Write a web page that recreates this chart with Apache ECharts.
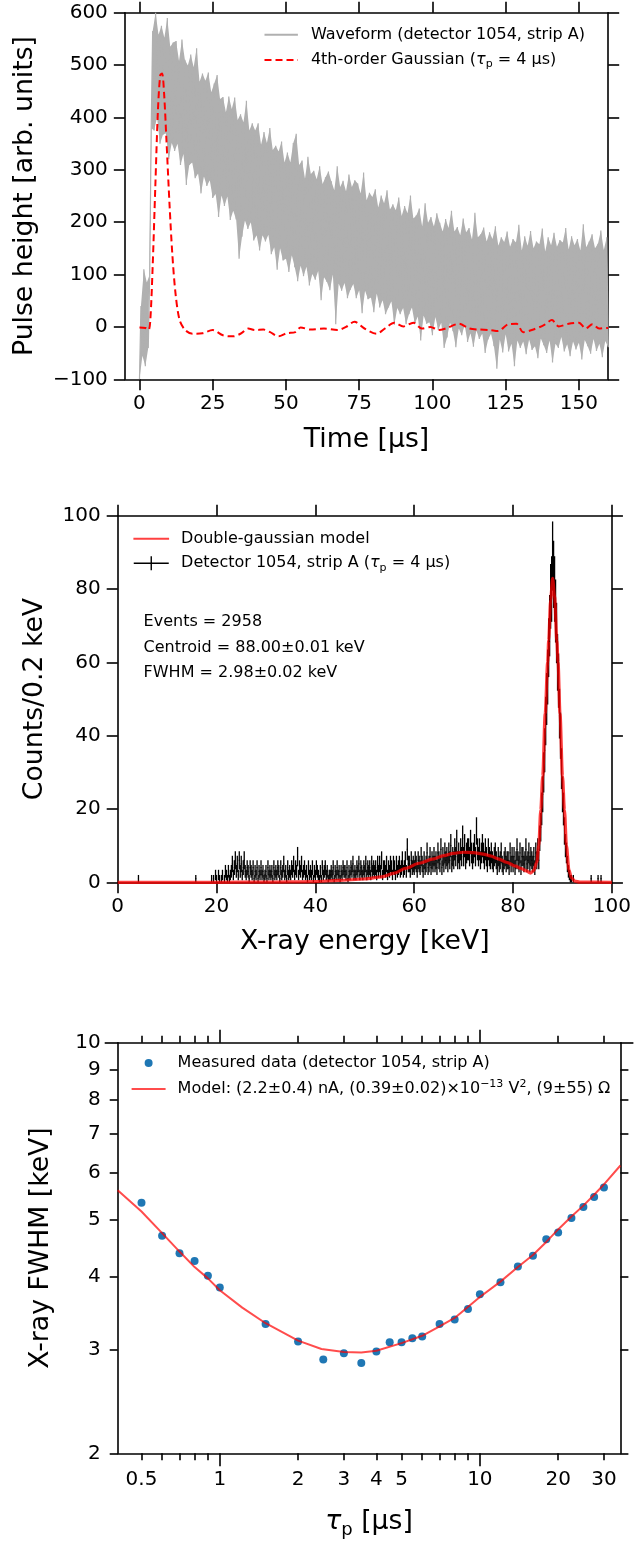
<!DOCTYPE html>
<html>
<head>
<meta charset="utf-8">
<script src="https://cdn.jsdelivr.net/npm/echarts@6/dist/echarts.min.js"></script>
<style>
  html, body { margin: 0; padding: 0; background: #fff; }
  #chart { width: 634px; height: 1543px; }
</style>
</head>
<body>
<div id="chart"></div>
<script>
// ---------- top panel: waveform envelope read once per µs (low at t, high at t+0.5) ----------
var waveHigh = [40,110,85,100,
  565,600,558,575,552,590,535,543,546,508,549,510,499,520,496,532,
  468,484,470,486,448,465,481,435,439,410,440,416,438,395,406,391,432,375,389,375,
  389,348,372,351,380,338,346,335,354,314,333,314,351,369,309,318,283,325,292,298,
  282,307,273,286,297,278,261,307,267,279,259,291,267,280,274,255,295,242,256,248,
  263,228,251,236,261,224,234,223,247,212,231,217,251,207,213,226,192,236,199,210,
  192,217,199,182,206,189,222,182,191,175,207,181,189,167,218,171,177,190,163,181,
  168,192,155,171,162,182,153,168,161,195,146,173,155,183,150,163,158,188,144,171,
  156,180,153,166,161,189,148,173,156,168,146,196,152,163,177,150,159,184,147,171,154];
var waveLow = [-100,-55,-75,-40,
  380,375,400,350,367,370,320,351,336,350,309,330,271,309,314,284,
  293,255,287,269,280,246,254,210,251,231,249,204,222,205,130,172,203,187,200,165,
  175,146,175,163,176,139,152,109,150,127,130,105,137,114,87,117,97,115,79,101,
  90,107,51,95,86,70,100,5,83,69,84,55,71,82,55,70,26,69,53,56,
  28,64,37,51,24,37,49,4,36,24,36,5,24,37,6,20,-26,22,6,9,
  -16,19,-6,8,-40,-20,8,-8,-39,-3,-16,3,-29,-12,-38,-7,-23,-13,-50,-24,
  -13,-37,-80,-24,-49,-14,-47,-32,-75,-26,-40,-28,-52,-24,-44,-37,-60,-22,-35,-50,
  -26,-68,-32,-40,-19,-47,-33,-56,-28,-43,-30,-62,-25,-37,-51,-23,-46,-32,-58,-27,-39];
var gaussTime = [0,2,3.1,3.7,4.5,5.4,6.3,7.1,7.7,8.4,9.2,10.3,11.2,12.3,13.7,15.6,18.1,21.5,25,28.5,
  31.9,34.8,37.1,39.4,42.3,44.6,47.5,50.3,53.2,55,58.4,63,67.6,70.5,73.4,76.8,80.9,83.8,87,90.1,
  93.5,96.4,99.3,102.2,104.5,109.1,112.6,116,119.5,122.4,125.8,128.7,131,133.9,137.9,140.8,143.1,146.5,150,152.3,
  154.6,156.9,159.2,160];
var gaussHeight = [-1,-2,-6,13,115,267,414,481,484,446,357,229,140,64,13,-6,-13,-12,-6,-16,
  -18,-12,-3,-6,-5,-10,-18,-12,-10,-1,-5,-3,-6,0,10,-3,-13,-3,8,1,
  8,-3,0,-6,-3,6,-3,-5,-6,-8,5,6,-10,-6,3,13,1,6,8,-3,
  5,-3,-2,-2];
var timeTicks = [0, 25, 50, 75, 100, 125, 150];

// ---------- middle panel: spectrum, 0.2 keV bins starting at 19 keV ----------
var histStart = 19.0;
var binWidth = 0.2;
var histCounts = [
  1,0,1,0,2, 1,0,2,1,0, 1,2,0,1,3, 2,1,3,1,2, 3,5,2,4,6,
  3,5,2,6,3, 5,2,4,6,3, 2,4,3,1,4, 3,2,4,1,3, 2,4,1,3,2,
  4,2,3,1,2, 3,1,4,2,3, 2,3,1,4,2, 3,2,4,3,1, 4,2,3,5,2,
  3,1,4,2,3, 2,4,3,5,2, 4,3,7,2,4, 3,5,2,3,4, 2,3,1,4,2,
  3,2,4,1,3, 2,4,3,2,1, 3,1,4,2,3, 4,2,3,1,2, 2,3,2,4,1,
  3,2,4,2,3, 1,3,2,4,3, 3,2,4,1,3, 2,4,3,5,2, 3,2,4,3,5,
  2,4,3,2,4, 3,5,2,4,3, 4,2,5,3,4, 3,4,2,5,3, 5,3,6,2,4,
  4,3,5,2,4, 3,5,4,2,5, 4,2,5,3,4, 5,3,4,6,3, 4,6,3,9,5,
  5,3,6,4,5, 4,6,5,3,6, 5,4,7,5,3, 6,4,5,8,4, 5,7,4,6,5,
  7,5,6,4,8, 6,5,9,4,7, 5,8,6,7,5, 8,6,10,5,7, 6,9,7,11,6,
  8,6,9,7,12, 7,10,6,8,9, 9,7,11,8,6, 8,10,7,14,9, 7,9,6,8,10,
  8,6,9,7,5, 9,7,6,8,6, 5,7,8,6,4, 7,5,6,8,5, 4,6,7,5,6,
  6,4,8,5,7, 5,7,4,6,9, 6,5,8,4,7, 7,5,6,9,5, 6,8,5,7,6,
  5,7,4,8,6, 9,6,12,15,20, 24,30,36,44,50, 56,64,70,78,80, 89,84,80,74,68,
  60,55,46,40,31, 24,20,14,10,8, 5,3,2,1,1, 0,1,0,0,0];
var strayEnergy = [4.2, 15.8, 95.8, 97.2, 97.8];
var strayCounts = [1, 1, 1, 1, 1];
var modelEnergy = [0,20,30,40,44.5,50,53.4,56,58.2,61,63.7,66,67.9,69.9,72,74,75.4,77,78.8,80.5,
  81.6,82.7,83.5,84.2,84.8,85.2,85.6,86,86.5,87,87.2,87.6,88,88.4,88.85,89.1,89.5,90,90.4,90.8,
  91.3,91.8,92.5,93.5,100];
var modelCounts = [0,0,0.05,0.2,0.5,0.9,1.5,2.5,3.8,5.2,6.3,7.3,7.9,8.2,8.1,7.7,7.2,6.4,5.4,4.4,
  3.8,3.1,2.5,3.2,5.5,10,19.7,29,46,60,66,77,82.9,78,66,60,46,29,19.7,10,
  3.4,1.2,0.3,0.05,0];
var statsLines = ['Events = 2958', 'Centroid = 88.00±0.01 keV', 'FWHM = 2.98±0.02 keV'];

// ---------- bottom panel: FWHM vs peaking time ----------
var tau = [0.5,0.6,0.7,0.8,0.9,1,1.5,2,2.5,3,3.5,4,4.5,5,5.5,6,7,8,9,10,12,14,16,18,20,22.5,25,27.5,30];
var fwhm = [5.34,4.69,4.38,4.25,4.01,3.83,3.32,3.10,2.89,2.96,2.85,2.98,3.09,3.09,3.14,3.16,3.32,3.38,3.52,3.73,
  3.91,4.16,4.34,4.63,4.75,5.03,5.25,5.46,5.67];
var fitTau = [0.405,0.5,0.6,0.7,0.8,0.9,1,1.22,1.5,2,2.46,3,3.5,4,5,6,7,8,10,12,14,16,18,20,22.5,25,27.5,30,34.7];
var fitFwhm = [5.61,5.16,4.74,4.41,4.15,3.97,3.79,3.54,3.33,3.11,3.01,2.975,2.97,2.99,3.08,3.17,3.29,3.40,3.69,3.92,
  4.15,4.35,4.58,4.81,5.06,5.28,5.51,5.74,6.18];
var tauLabels = [0.5, 1, 2, 3, 4, 5, 10, 20, 30];
var tauMajor = [1, 10];
var tauMinor = [0.5, 0.6, 0.7, 0.8, 0.9, 2, 3, 4, 5, 6, 7, 8, 9, 20, 30];
var fwhmLabels = [2, 3, 4, 5, 6, 7, 8, 9, 10];
var fwhmMajor = [10];
var fwhmMinor = [2, 3, 4, 5, 6, 7, 8, 9];

var legendNames = {
  wave: 'Waveform (detector 1054, strip A)',
  gauss: '4th-order Gaussian ({i|τ}{s|p} = 4 μs)',
  model: 'Double-gaussian model',
  detector: 'Detector 1054, strip A ({i|τ}{s|p} = 4 μs)',
  measured: 'Measured data (detector 1054, strip A)',
  fit: 'Model: (2.2±0.4) nA, (0.39±0.02)×10{sup|−13} V{sup|2}, (9±55) Ω'
};

var waveData = [];
for (var i = 0; i < waveLow.length; i++) {
  waveData.push([i, waveLow[i]]);
  if (i < waveLow.length - 1) waveData.push([i + 0.5, waveHigh[i]]);
}
var histData = histCounts.map(function (n, k) { return [histStart + k * binWidth, n]; })
  .filter(function (d) { return d[1] > 0; });
strayEnergy.forEach(function (e, k) { histData.push([e, strayCounts[k]]); });

var black = '#000';
var grey = '#b0b0b0';
var labelFont = 20;
var nameFont = 26.7;

function axisLine(show) {
  return { show: show, onZero: false, lineStyle: { color: black, width: 1.6 } };
}
function axisTick(values, len) {
  var t = { show: true, length: len, lineStyle: { color: black, width: 1.6 } };
  if (values) t.customValues = values;
  return t;
}
function axisLabel(values, show, margin) {
  var l = { show: show, fontSize: labelFont, color: black, margin: margin,
    formatter: function (v) { return String(v).replace('-', '\u2212'); } };
  if (values) l.customValues = values;
  return l;
}
function makeAxis(o) {
  return {
    gridIndex: o.grid, type: o.type || 'value', position: o.pos,
    min: o.min, max: o.max, interval: o.interval, logBase: 10,
    axisLine: axisLine(o.line !== false),
    axisTick: axisTick(o.ticks, o.tickLen || 11),
    axisLabel: axisLabel(o.labels, !!o.showLabels, o.margin || 14),
    splitLine: { show: false },
    name: o.name, nameLocation: 'middle', nameGap: o.nameGap,
    nameTextStyle: { fontSize: nameFont, color: black, lineHeight: 34,
      rich: { i: { fontSize: nameFont, fontStyle: 'italic', lineHeight: 34 },
              s: { fontSize: 18, lineHeight: 34, verticalAlign: 'bottom' } } }
  };
}

function legendText(pad) {
  return {
    fontSize: 16, color: black, lineHeight: 20, padding: [0, 0, 0, pad],
    rich: { i: { fontSize: 16, fontStyle: 'italic', lineHeight: 20 },
            s: { fontSize: 11, lineHeight: 20, verticalAlign: 'bottom' },
            sup: { fontSize: 11, lineHeight: 20, verticalAlign: 'top' } }
  };
}
function legendFmt(name) { return legendNames[name]; }
var noSymbol = { opacity: 0 };

var option = {
  animation: false,
  backgroundColor: '#fff',
  textStyle: { fontFamily: 'DejaVu Sans' },
  grid: [
    { left: 120.4, right: 25.8, top: 12.7, height: 366.6 },
    { left: 117.7, right: 20.4, top: 515.7, height: 366.6 },
    { left: 117.7, right: 13.6, top: 1042.7, height: 410.6 }
  ],
  xAxis: [
    makeAxis({ grid: 0, pos: 'bottom', min: -5, max: 160, ticks: timeTicks, labels: timeTicks, showLabels: true,
      name: 'Time [μs]', nameGap: 44 }),
    makeAxis({ grid: 0, pos: 'top', min: -5, max: 160, ticks: timeTicks }),
    makeAxis({ grid: 1, pos: 'bottom', min: 0, max: 100, interval: 20, showLabels: true,
      name: 'X-ray energy [keV]', nameGap: 43 }),
    makeAxis({ grid: 1, pos: 'top', min: 0, max: 100, interval: 20 }),
    makeAxis({ grid: 2, type: 'log', pos: 'bottom', min: 0.405, max: 34.7, ticks: tauMajor, tickLen: 13,
      labels: tauLabels, showLabels: true, margin: 16, name: '{i|τ}{s|p} [μs]', nameGap: 52 }),
    makeAxis({ grid: 2, type: 'log', pos: 'bottom', min: 0.405, max: 34.7, ticks: tauMinor, tickLen: 7, line: false }),
    makeAxis({ grid: 2, type: 'log', pos: 'top', min: 0.405, max: 34.7, ticks: tauMajor, tickLen: 13 }),
    makeAxis({ grid: 2, type: 'log', pos: 'top', min: 0.405, max: 34.7, ticks: tauMinor, tickLen: 7, line: false })
  ],
  yAxis: [
    makeAxis({ grid: 0, pos: 'left', min: -100, max: 600, interval: 100, showLabels: true, margin: 17,
      name: 'Pulse height [arb. units]', nameGap: 72 }),
    makeAxis({ grid: 0, pos: 'right', min: -100, max: 600, interval: 100 }),
    makeAxis({ grid: 1, pos: 'left', min: 0, max: 100, interval: 20, showLabels: true, margin: 17,
      name: 'Counts/0.2 keV', nameGap: 54 }),
    makeAxis({ grid: 1, pos: 'right', min: 0, max: 100, interval: 20 }),
    makeAxis({ grid: 2, type: 'log', pos: 'left', min: 2, max: 10, ticks: fwhmMajor, tickLen: 13,
      labels: fwhmLabels, showLabels: true, margin: 17, name: 'X-ray FWHM [keV]', nameGap: 60 }),
    makeAxis({ grid: 2, type: 'log', pos: 'left', min: 2, max: 10, ticks: fwhmMinor, tickLen: 8, line: false }),
    makeAxis({ grid: 2, type: 'log', pos: 'right', min: 2, max: 10, ticks: fwhmMajor, tickLen: 13 }),
    makeAxis({ grid: 2, type: 'log', pos: 'right', min: 2, max: 10, ticks: fwhmMinor, tickLen: 8, line: false })
  ],
  legend: [
    { data: [{ name: 'wave', itemStyle: noSymbol }, { name: 'gauss', itemStyle: noSymbol }],
      orient: 'vertical', left: 263.5, top: 24.7, padding: 0, itemWidth: 33.4, itemHeight: 14,
      itemGap: 5.3, selectedMode: false, formatter: legendFmt, textStyle: legendText(8) },
    { data: [{ name: 'model', itemStyle: noSymbol },
             { name: 'detector', icon: 'path://M0,6.3H35V7.7H0Z M16.8,0H18.2V14H16.8Z' }],
      orient: 'vertical', left: 132.4, top: 528.7, padding: 0, itemWidth: 35.7, itemHeight: 14,
      itemGap: 4.6, selectedMode: false, formatter: legendFmt, textStyle: legendText(7) },
    { data: ['measured', { name: 'fit', itemStyle: noSymbol }],
      orient: 'vertical', left: 130.6, top: 1053, padding: 0, itemWidth: 34, itemHeight: 8,
      itemGap: 6, selectedMode: false, formatter: legendFmt, textStyle: legendText(7) }
  ],
  graphic: statsLines.map(function (s, k) {
    return { type: 'text', x: 143.6, y: 622 + 25.5 * k,
      style: { text: s, fontSize: 16, fontFamily: 'DejaVu Sans', fill: black, verticalAlign: 'middle' } };
  }),
  series: [
    // filled band between the read low/high envelope points
    { type: 'custom', xAxisIndex: 0, yAxisIndex: 0, data: [[0, 0]], silent: true, clip: true,
      renderItem: function (params, api) {
        var pts = [];
        for (var k = 0; k < waveHigh.length - 1; k++) pts.push(api.coord([k + 0.5, waveHigh[k]]));
        for (var j = waveLow.length - 1; j >= 0; j--) pts.push(api.coord([j, waveLow[j]]));
        return { type: 'polygon', shape: { points: pts }, style: { fill: grey } };
      } },
    { name: 'wave', type: 'line', xAxisIndex: 0, yAxisIndex: 0, data: waveData, symbol: 'none',
      lineStyle: { color: grey, width: 1.2 }, itemStyle: { color: grey } },
    { name: 'gauss', type: 'line', xAxisIndex: 0, yAxisIndex: 0, symbol: 'none', smooth: 0.3,
      data: gaussTime.map(function (t, k) { return [t, gaussHeight[k]]; }),
      lineStyle: { color: '#ff0000', width: 2, type: [7, 4] }, itemStyle: { color: '#ff0000' } },
    { name: 'detector', type: 'custom', xAxisIndex: 2, yAxisIndex: 2, data: histData,
      encode: { x: 0, y: 1 }, itemStyle: { color: black },
      renderItem: function (params, api) {
        var x = api.value(0), n = api.value(1), e = Math.sqrt(n);
        var lo = api.coord([x, n - e]), hi = api.coord([x, n + e]);
        var l = api.coord([x - binWidth / 2, n]), r = api.coord([x + binWidth / 2, n]);
        var st = { stroke: black, lineWidth: 1.3 };
        return { type: 'group', children: [
          { type: 'line', shape: { x1: lo[0], y1: lo[1], x2: hi[0], y2: hi[1] }, style: st },
          { type: 'line', shape: { x1: l[0], y1: l[1], x2: r[0], y2: r[1] }, style: st }
        ] };
      } },
    { name: 'model', type: 'line', xAxisIndex: 2, yAxisIndex: 2, symbol: 'none', smooth: 0.3, smoothMonotone: 'x',
      data: modelEnergy.map(function (e, k) { return [e, modelCounts[k]]; }),
      lineStyle: { color: 'rgba(255,0,0,0.75)', width: 3.2 }, itemStyle: { color: 'rgba(255,0,0,0.75)' } },
    { name: 'measured', type: 'scatter', xAxisIndex: 4, yAxisIndex: 4, symbolSize: 8,
      data: tau.map(function (t, k) { return [t, fwhm[k]]; }), itemStyle: { color: '#1f77b4', opacity: 1 } },
    { name: 'fit', type: 'line', xAxisIndex: 4, yAxisIndex: 4, symbol: 'none',
      data: fitTau.map(function (t, k) { return [t, fitFwhm[k]]; }),
      lineStyle: { color: 'rgba(255,0,0,0.7)', width: 2 }, itemStyle: { color: 'rgba(255,0,0,0.7)' } }
  ]
};

var chart = echarts.init(document.getElementById('chart'), null, { renderer: 'canvas' });
chart.setOption(option);
</script>
</body>
</html>
